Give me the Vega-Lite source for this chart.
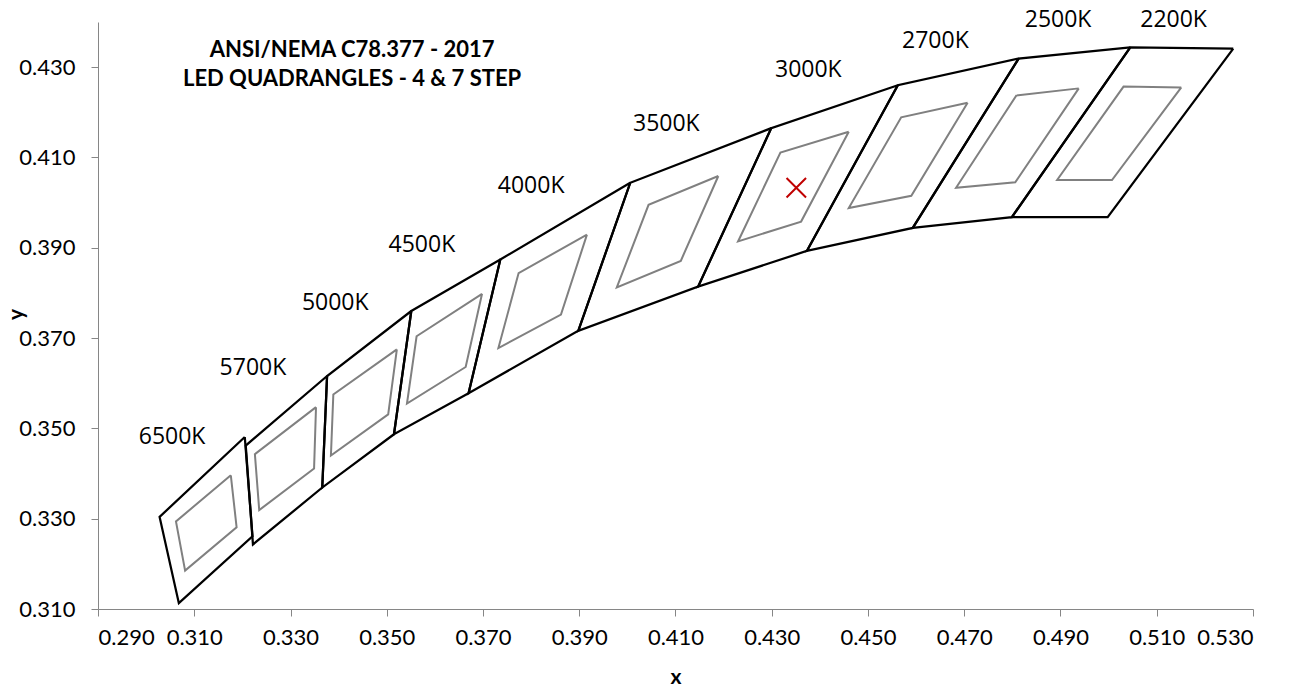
{
  "$schema": "https://vega.github.io/schema/vega-lite/v6.json",
  "width": 1155,
  "height": 587,
  "autosize": {"type": "none"},
  "padding": {"left": 98, "top": 22, "right": 38, "bottom": 79},
  "background": "white",
  "config": {
    "view": {"stroke": null},
    "axis": {
      "grid": false,
      "domainColor": "#868686",
      "tickColor": "#868686",
      "tickSize": 7,
      "labelFont": "Lato",
      "labelFontSize": 22,
      "labelColor": "#000000",
      "titleFont": "Lato",
      "titleFontSize": 21,
      "titleFontWeight": "bold",
      "titleColor": "#000000"
    }
  },
  "datasets": {
    "q7": [
      {"cct": "6500K", "ord": 1, "x": 0.3205, "y": 0.3481},
      {"cct": "6500K", "ord": 2, "x": 0.3028, "y": 0.3304},
      {"cct": "6500K", "ord": 3, "x": 0.3068, "y": 0.3113},
      {"cct": "6500K", "ord": 4, "x": 0.3221, "y": 0.3261},
      {"cct": "6500K", "ord": 5, "x": 0.3205, "y": 0.3481},
      {"cct": "5700K", "ord": 1, "x": 0.3376, "y": 0.3616},
      {"cct": "5700K", "ord": 2, "x": 0.3207, "y": 0.3462},
      {"cct": "5700K", "ord": 3, "x": 0.3222, "y": 0.3243},
      {"cct": "5700K", "ord": 4, "x": 0.3366, "y": 0.3369},
      {"cct": "5700K", "ord": 5, "x": 0.3376, "y": 0.3616},
      {"cct": "5000K", "ord": 1, "x": 0.3551, "y": 0.3760},
      {"cct": "5000K", "ord": 2, "x": 0.3376, "y": 0.3616},
      {"cct": "5000K", "ord": 3, "x": 0.3366, "y": 0.3369},
      {"cct": "5000K", "ord": 4, "x": 0.3515, "y": 0.3487},
      {"cct": "5000K", "ord": 5, "x": 0.3551, "y": 0.3760},
      {"cct": "4500K", "ord": 1, "x": 0.3736, "y": 0.3874},
      {"cct": "4500K", "ord": 2, "x": 0.3551, "y": 0.3760},
      {"cct": "4500K", "ord": 3, "x": 0.3515, "y": 0.3487},
      {"cct": "4500K", "ord": 4, "x": 0.3670, "y": 0.3578},
      {"cct": "4500K", "ord": 5, "x": 0.3736, "y": 0.3874},
      {"cct": "4000K", "ord": 1, "x": 0.4006, "y": 0.4044},
      {"cct": "4000K", "ord": 2, "x": 0.3736, "y": 0.3874},
      {"cct": "4000K", "ord": 3, "x": 0.3670, "y": 0.3578},
      {"cct": "4000K", "ord": 4, "x": 0.3898, "y": 0.3716},
      {"cct": "4000K", "ord": 5, "x": 0.4006, "y": 0.4044},
      {"cct": "3500K", "ord": 1, "x": 0.4299, "y": 0.4165},
      {"cct": "3500K", "ord": 2, "x": 0.4006, "y": 0.4044},
      {"cct": "3500K", "ord": 3, "x": 0.3898, "y": 0.3716},
      {"cct": "3500K", "ord": 4, "x": 0.4147, "y": 0.3814},
      {"cct": "3500K", "ord": 5, "x": 0.4299, "y": 0.4165},
      {"cct": "3000K", "ord": 1, "x": 0.4562, "y": 0.4260},
      {"cct": "3000K", "ord": 2, "x": 0.4299, "y": 0.4165},
      {"cct": "3000K", "ord": 3, "x": 0.4147, "y": 0.3814},
      {"cct": "3000K", "ord": 4, "x": 0.4373, "y": 0.3893},
      {"cct": "3000K", "ord": 5, "x": 0.4562, "y": 0.4260},
      {"cct": "2700K", "ord": 1, "x": 0.4813, "y": 0.4319},
      {"cct": "2700K", "ord": 2, "x": 0.4562, "y": 0.4260},
      {"cct": "2700K", "ord": 3, "x": 0.4373, "y": 0.3893},
      {"cct": "2700K", "ord": 4, "x": 0.4593, "y": 0.3944},
      {"cct": "2700K", "ord": 5, "x": 0.4813, "y": 0.4319},
      {"cct": "2500K", "ord": 1, "x": 0.5045, "y": 0.4344},
      {"cct": "2500K", "ord": 2, "x": 0.4813, "y": 0.4319},
      {"cct": "2500K", "ord": 3, "x": 0.4593, "y": 0.3944},
      {"cct": "2500K", "ord": 4, "x": 0.4799, "y": 0.3968},
      {"cct": "2500K", "ord": 5, "x": 0.5045, "y": 0.4344},
      {"cct": "2200K", "ord": 1, "x": 0.5259, "y": 0.4341},
      {"cct": "2200K", "ord": 2, "x": 0.5045, "y": 0.4344},
      {"cct": "2200K", "ord": 3, "x": 0.4799, "y": 0.3968},
      {"cct": "2200K", "ord": 4, "x": 0.4998, "y": 0.3968},
      {"cct": "2200K", "ord": 5, "x": 0.5259, "y": 0.4341}
    ],
    "q4": [
      {"cct": "6500K", "ord": 1, "x": 0.3176, "y": 0.3396},
      {"cct": "6500K", "ord": 2, "x": 0.3062, "y": 0.3294},
      {"cct": "6500K", "ord": 3, "x": 0.3081, "y": 0.3185},
      {"cct": "6500K", "ord": 4, "x": 0.3188, "y": 0.3281},
      {"cct": "6500K", "ord": 5, "x": 0.3176, "y": 0.3396},
      {"cct": "5700K", "ord": 1, "x": 0.3353, "y": 0.3547},
      {"cct": "5700K", "ord": 2, "x": 0.3226, "y": 0.3443},
      {"cct": "5700K", "ord": 3, "x": 0.3235, "y": 0.3319},
      {"cct": "5700K", "ord": 4, "x": 0.3349, "y": 0.3411},
      {"cct": "5700K", "ord": 5, "x": 0.3353, "y": 0.3547},
      {"cct": "5000K", "ord": 1, "x": 0.3521, "y": 0.3675},
      {"cct": "5000K", "ord": 2, "x": 0.3389, "y": 0.3575},
      {"cct": "5000K", "ord": 3, "x": 0.3384, "y": 0.3440},
      {"cct": "5000K", "ord": 4, "x": 0.3503, "y": 0.3531},
      {"cct": "5000K", "ord": 5, "x": 0.3521, "y": 0.3675},
      {"cct": "4500K", "ord": 1, "x": 0.3698, "y": 0.3798},
      {"cct": "4500K", "ord": 2, "x": 0.3562, "y": 0.3704},
      {"cct": "4500K", "ord": 3, "x": 0.3542, "y": 0.3555},
      {"cct": "4500K", "ord": 4, "x": 0.3664, "y": 0.3636},
      {"cct": "4500K", "ord": 5, "x": 0.3698, "y": 0.3798},
      {"cct": "4000K", "ord": 1, "x": 0.3916, "y": 0.3929},
      {"cct": "4000K", "ord": 2, "x": 0.3774, "y": 0.3844},
      {"cct": "4000K", "ord": 3, "x": 0.3732, "y": 0.3678},
      {"cct": "4000K", "ord": 4, "x": 0.3862, "y": 0.3752},
      {"cct": "4000K", "ord": 5, "x": 0.3916, "y": 0.3929},
      {"cct": "3500K", "ord": 1, "x": 0.4189, "y": 0.4059},
      {"cct": "3500K", "ord": 2, "x": 0.4044, "y": 0.3995},
      {"cct": "3500K", "ord": 3, "x": 0.3978, "y": 0.3812},
      {"cct": "3500K", "ord": 4, "x": 0.4111, "y": 0.3871},
      {"cct": "3500K", "ord": 5, "x": 0.4189, "y": 0.4059},
      {"cct": "3000K", "ord": 1, "x": 0.4460, "y": 0.4157},
      {"cct": "3000K", "ord": 2, "x": 0.4318, "y": 0.4111},
      {"cct": "3000K", "ord": 3, "x": 0.4230, "y": 0.3914},
      {"cct": "3000K", "ord": 4, "x": 0.4361, "y": 0.3958},
      {"cct": "3000K", "ord": 5, "x": 0.4460, "y": 0.4157},
      {"cct": "2700K", "ord": 1, "x": 0.4707, "y": 0.4221},
      {"cct": "2700K", "ord": 2, "x": 0.4569, "y": 0.4189},
      {"cct": "2700K", "ord": 3, "x": 0.4460, "y": 0.3988},
      {"cct": "2700K", "ord": 4, "x": 0.4590, "y": 0.4015},
      {"cct": "2700K", "ord": 5, "x": 0.4707, "y": 0.4221},
      {"cct": "2500K", "ord": 1, "x": 0.4938, "y": 0.4253},
      {"cct": "2500K", "ord": 2, "x": 0.4808, "y": 0.4237},
      {"cct": "2500K", "ord": 3, "x": 0.4683, "y": 0.4033},
      {"cct": "2500K", "ord": 4, "x": 0.4806, "y": 0.4045},
      {"cct": "2500K", "ord": 5, "x": 0.4938, "y": 0.4253},
      {"cct": "2200K", "ord": 1, "x": 0.5151, "y": 0.4255},
      {"cct": "2200K", "ord": 2, "x": 0.5031, "y": 0.4257},
      {"cct": "2200K", "ord": 3, "x": 0.4893, "y": 0.4050},
      {"cct": "2200K", "ord": 4, "x": 0.5007, "y": 0.4050},
      {"cct": "2200K", "ord": 5, "x": 0.5151, "y": 0.4255}
    ],
    "labels": [
      {"label": "6500K", "x": 0.3054, "y": 0.3481},
      {"label": "5700K", "x": 0.3222, "y": 0.3634},
      {"label": "5000K", "x": 0.3393, "y": 0.3778},
      {"label": "4500K", "x": 0.3573, "y": 0.3907},
      {"label": "4000K", "x": 0.3800, "y": 0.4037},
      {"label": "3500K", "x": 0.4081, "y": 0.4175},
      {"label": "3000K", "x": 0.4376, "y": 0.4294},
      {"label": "2700K", "x": 0.4640, "y": 0.4359},
      {"label": "2500K", "x": 0.4895, "y": 0.4404},
      {"label": "2200K", "x": 0.5135, "y": 0.4404}
    ],
    "heading": [
      {"text": "ANSI/NEMA C78.377 - 2017", "x": 0.3428, "y": 0.4339},
      {"text": "LED QUADRANGLES - 4 & 7 STEP", "x": 0.3428, "y": 0.4274}
    ],
    "marker": [
      {"x": 0.4351, "y": 0.4033}
    ]
  },
  "layer": [
    {
      "data": {"name": "q4"},
      "mark": {"type": "line", "color": "#808080", "strokeWidth": 2},
      "encoding": {
        "x": {"field": "x", "type": "quantitative", "scale": {"domain": [0.29, 0.53], "nice": false, "zero": false},
          "axis": {"title": "x", "values": [0.29, 0.31, 0.33, 0.35, 0.37, 0.39, 0.41, 0.43, 0.45, 0.47, 0.49, 0.51, 0.53], "format": ".3f", "labelPadding": 11, "titleY": 68, "titleBaseline": "middle"}},
        "y": {"field": "y", "type": "quantitative", "scale": {"domain": [0.31, 0.44], "nice": false, "zero": false},
          "axis": {"title": "y", "values": [0.31, 0.33, 0.35, 0.37, 0.39, 0.41, 0.43], "format": ".3f", "labelPadding": 16, "titleX": -82, "titleY": 292, "titleBaseline": "middle"}},
        "detail": {"field": "cct"},
        "order": {"field": "ord", "type": "quantitative"}
      }
    },
    {
      "data": {"name": "q7"},
      "mark": {"type": "line", "color": "#000000", "strokeWidth": 2.25},
      "encoding": {
        "x": {"field": "x", "type": "quantitative"},
        "y": {"field": "y", "type": "quantitative"},
        "detail": {"field": "cct"},
        "order": {"field": "ord", "type": "quantitative"}
      }
    },
    {
      "data": {"name": "marker"},
      "mark": {"type": "point", "shape": "M-1,-1L1,1M-1,1L1,-1", "filled": false, "color": "#C00000", "strokeWidth": 2, "size": 380, "opacity": 1},
      "encoding": {
        "x": {"field": "x", "type": "quantitative"},
        "y": {"field": "y", "type": "quantitative"}
      }
    },
    {
      "data": {"name": "labels"},
      "mark": {"type": "text", "font": "Open Sans", "fontSize": 23, "color": "#000000", "align": "center", "baseline": "middle"},
      "encoding": {
        "x": {"field": "x", "type": "quantitative"},
        "y": {"field": "y", "type": "quantitative"},
        "text": {"field": "label"}
      }
    },
    {
      "data": {"name": "heading"},
      "mark": {"type": "text", "font": "Lato", "fontSize": 22, "fontWeight": "bold", "color": "#000000", "align": "center", "baseline": "middle"},
      "encoding": {
        "x": {"field": "x", "type": "quantitative"},
        "y": {"field": "y", "type": "quantitative"},
        "text": {"field": "text"}
      }
    }
  ]
}
